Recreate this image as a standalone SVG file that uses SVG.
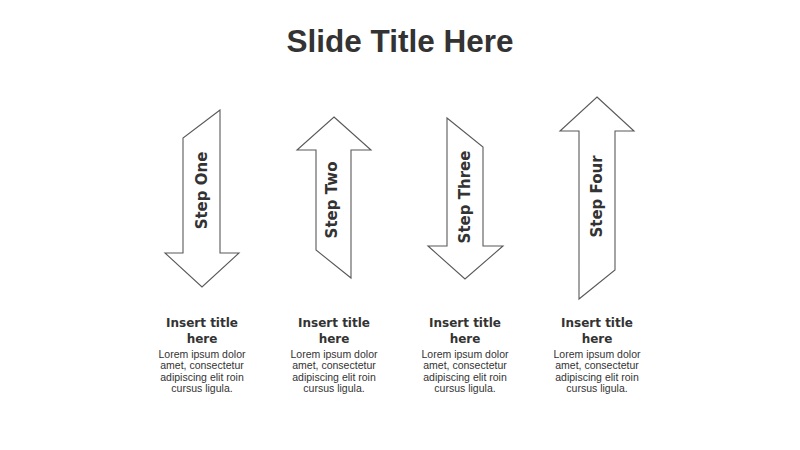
<svg xmlns="http://www.w3.org/2000/svg" width="800" height="450" viewBox="0 0 800 450">
<style>
.arrow{fill:#ffffff;stroke:#595959;stroke-width:1.1;stroke-linejoin:miter}
.lbl{font-family:"DejaVu Sans",sans-serif;font-weight:bold;font-size:15px;fill:#333333;text-anchor:middle}
.title{font-family:"Liberation Sans",Arial,sans-serif;font-weight:bold;font-size:31.5px;fill:#333333;text-anchor:middle}
.h{font-family:"DejaVu Sans",sans-serif;font-weight:bold;font-size:12px;fill:#333333;text-anchor:middle}
.b{font-family:"Liberation Sans",Arial,sans-serif;font-size:10.5px;fill:#333333;text-anchor:middle}
</style>
<rect width="800" height="450" fill="#ffffff"/>
<text class="title" x="400" y="52">Slide Title Here</text>
<g id="step1">
<polygon class="arrow" points="220,110 183,138 183,253 165,253 202,287 239,253 220,253"/>
<text class="lbl" transform="translate(206.5,190.5) rotate(-90)">Step One</text>
<text class="h" x="202" y="327">Insert title</text>
<text class="h" x="202" y="343">here</text>
<text class="b" x="202" y="357.5">Lorem ipsum dolor</text>
<text class="b" x="202" y="369">amet, consectetur</text>
<text class="b" x="202" y="380.5">adipiscing elit roin</text>
<text class="b" x="202" y="392">cursus ligula.</text>
</g>
<g id="step2">
<polygon class="arrow" points="334,117 371,150 351,150 351,278 316,250 316,150 297,150"/>
<text class="lbl" transform="translate(337,200) rotate(-90)">Step Two</text>
<text class="h" x="334" y="327">Insert title</text>
<text class="h" x="334" y="343">here</text>
<text class="b" x="334" y="357.5">Lorem ipsum dolor</text>
<text class="b" x="334" y="369">amet, consectetur</text>
<text class="b" x="334" y="380.5">adipiscing elit roin</text>
<text class="b" x="334" y="392">cursus ligula.</text>
</g>
<g id="step3">
<polygon class="arrow" points="447,118 483,147 483,246 503,246 465,279 428,246 447,246"/>
<text class="lbl" transform="translate(469.5,197) rotate(-90)">Step Three</text>
<text class="h" x="465" y="327">Insert title</text>
<text class="h" x="465" y="343">here</text>
<text class="b" x="465" y="357.5">Lorem ipsum dolor</text>
<text class="b" x="465" y="369">amet, consectetur</text>
<text class="b" x="465" y="380.5">adipiscing elit roin</text>
<text class="b" x="465" y="392">cursus ligula.</text>
</g>
<g id="step4">
<polygon class="arrow" points="597,97 634,131 615,131 615,270 579,299 579,131 560,131"/>
<text class="lbl" transform="translate(601.5,196.5) rotate(-90)">Step Four</text>
<text class="h" x="597" y="327">Insert title</text>
<text class="h" x="597" y="343">here</text>
<text class="b" x="597" y="357.5">Lorem ipsum dolor</text>
<text class="b" x="597" y="369">amet, consectetur</text>
<text class="b" x="597" y="380.5">adipiscing elit roin</text>
<text class="b" x="597" y="392">cursus ligula.</text>
</g>
<g id="connectors"></g>
</svg>
